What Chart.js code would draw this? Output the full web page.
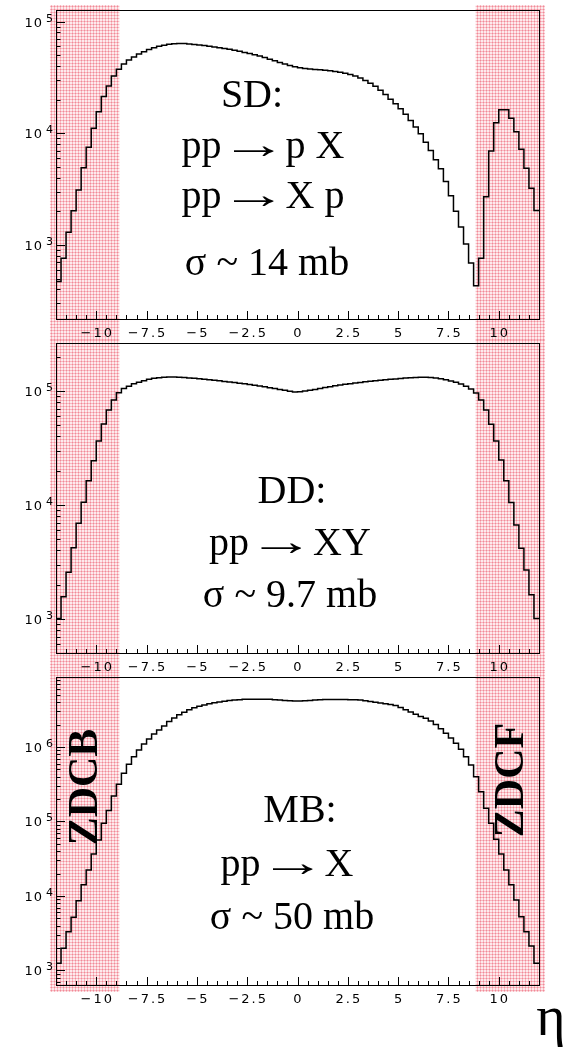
<!DOCTYPE html>
<html>
<head>
<meta charset="utf-8">
<script src="https://cdn.jsdelivr.net/npm/chart.js@4.4.0/dist/chart.umd.min.js"></script>
<style>
  html, body { margin: 0; padding: 0; background: #fff; }
  #page { position: relative; width: 566px; height: 1050px; overflow: hidden; }
  canvas { position: absolute; left: 0; }
</style>
</head>
<body>
<div id="page">
  <canvas id="sdChart" width="566" height="340" style="top:0;width:566px;height:340px"></canvas>
  <canvas id="ddChart" width="566" height="332" style="top:340px;width:566px;height:332px"></canvas>
  <canvas id="mbChart" width="566" height="378" style="top:672px;width:566px;height:378px"></canvas>
</div>
<script>
// histogram binning in eta (96 bins of 0.25)
const etaMin = -12;
const binWidth = 0.25;

// single diffractive pp -> pX / pp -> Xp
const sdCounts = [
  470, 760, 1300, 2020, 3100, 4900, 7500, 11100, 15600, 21300, 26500, 32600,
  37500, 41800, 45200, 48300, 51200, 53800, 56100, 58200, 60000, 61500, 62600, 63300,
  63600, 63500, 63100, 62500, 61800, 61000, 60200, 59300, 58400, 57500, 56500, 55400,
  54300, 53000, 51800, 50500, 49100, 47600, 46100, 44500, 43000, 41600, 40400, 39400,
  38600, 38000, 37600, 37300, 37000, 36700, 36300, 35800, 35200, 34500, 33600, 32500,
  31200, 29700, 28100, 26300, 24300, 22200, 20200, 18400, 16600, 14800, 13000, 11400,
  9900, 8300, 7000, 5800, 4800, 3700, 2750, 2000, 1450, 1020, 690, 430,
  760, 2700, 6950, 12400, 16200, 16200, 13600, 10300, 7200, 4870, 3220, 2030
];

// double diffractive pp -> XY
const ddCounts = [
  1010, 1570, 2570, 4230, 6910, 10600, 16300, 24500, 36400, 51400, 68100, 83400,
  96600, 105000, 110000, 115500, 119500, 123000, 126500, 129000, 130800, 131800, 132500, 132500,
  132000, 131000, 130000, 129000, 127800, 126500, 125200, 124000, 122700, 121400, 120000, 118600,
  117200, 115700, 114000, 112300, 110500, 108700, 106800, 105000, 103200, 101400, 99700, 98200,
  98300, 99800, 101500, 103300, 105200, 107100, 109000, 110900, 112700, 114400, 116000, 117500,
  118900, 120300, 121600, 122900, 124100, 125300, 126500, 127700, 128900, 130000, 130900, 131500,
  132000, 132000, 131300, 130000, 128000, 125500, 122500, 119000, 115000, 110000, 104000, 96000,
  83400, 68100, 51000, 36400, 24800, 16300, 10500, 6680, 4170, 2690, 1630, 1010
];

// minimum bias pp -> X
const mbCounts = [
  1250, 1990, 3320, 5180, 8650, 14100, 22400, 36600, 56500, 94600, 140000, 220000,
  316000, 443000, 586000, 741000, 912000, 1100000, 1280000, 1490000, 1690000, 1910000, 2200000, 2450000,
  2700000, 2930000, 3150000, 3350000, 3520000, 3670000, 3800000, 3920000, 4030000, 4120000, 4200000, 4270000,
  4320000, 4360000, 4380000, 4390000, 4390000, 4380000, 4360000, 4320000, 4270000, 4210000, 4160000, 4130000,
  4130000, 4160000, 4220000, 4270000, 4310000, 4340000, 4350000, 4350000, 4340000, 4330000, 4310000, 4290000,
  4270000, 4190000, 4090000, 3980000, 3890000, 3800000, 3720000, 3600000, 3390000, 3160000, 2950000, 2750000,
  2570000, 2430000, 2240000, 2000000, 1760000, 1530000, 1320000, 1120000, 933000, 741000, 575000, 400000,
  250000, 150000, 94600, 57700, 36600, 22300, 14100, 8830, 5270, 3320, 2130, 1250
];

const xTickValues = [-10, -7.5, -5, -2.5, 0, 2.5, 5, 7.5, 10];
const zdcBands = [[-12.3, -8.85], [8.85, 12.3]];

function histPoints(counts) {
  const pts = counts.map((v, i) => ({ x: etaMin + i * binWidth, y: v }));
  // close the last bin
  pts.push({ x: etaMin + counts.length * binWidth, y: counts[counts.length - 1] });
  return pts;
}

function makeHatch(ctx) {
  const c = document.createElement('canvas');
  c.width = 3; c.height = 3;
  const g = c.getContext('2d');
  g.fillStyle = '#fdeaec'; g.fillRect(0, 0, 3, 3);
  g.fillStyle = '#f8b8c0'; g.fillRect(0, 0, 3, 1); g.fillRect(0, 0, 1, 3);
  g.fillStyle = '#f08a97'; g.fillRect(0, 0, 1, 1);
  return ctx.createPattern(c, 'repeat');
}

function fmtTick(v) {
  return (v < 0 ? '\u2212' : '') + Math.abs(v);
}

// text with a long, thin arrow (the serif arrow glyph stretched sideways)
function drawNote(ctx, n) {
  ctx.font = n.font || '40px "Liberation Serif"';
  ctx.textAlign = 'left';
  const arrowLen = 40, gap = 12;
  const parts = n.text.split('\u2192').map(p => p.trim());
  const am = ctx.measureText('\u2192');
  const inkL = am.actualBoundingBoxLeft, inkW = am.actualBoundingBoxLeft + am.actualBoundingBoxRight;
  const s = arrowLen / inkW;
  let total = 0;
  parts.forEach((p, i) => { total += ctx.measureText(p).width + (i ? arrowLen + 2 * gap : 0); });
  let cx = -total / 2;
  parts.forEach((p, i) => {
    if (i) {
      ctx.save();
      ctx.translate(cx + gap, 0);
      ctx.scale(s, 1);
      ctx.fillText('\u2192', inkL, 0);
      ctx.restore();
      cx += arrowLen + 2 * gap;
    }
    ctx.fillText(p, cx, 0);
    cx += ctx.measureText(p).width;
  });
}

// ROOT-like frame: hatched ZDC bands, inward ticks, labels, annotations
const rootAxes = {
  id: 'rootAxes',
  beforeDraw(chart, args, opts) {
    const { ctx, scales: { x } } = chart;
    ctx.save();
    ctx.fillStyle = makeHatch(ctx);
    opts.bands.forEach(([a, b]) => {
      const x0 = x.getPixelForValue(a), x1 = x.getPixelForValue(b);
      ctx.fillRect(x0, opts.bandTop, x1 - x0, opts.bandBottom - opts.bandTop);
    });
    ctx.restore();
  },
  afterDraw(chart, args, opts) {
    const { ctx, chartArea: a, scales: { x, y } } = chart;
    ctx.save();
    ctx.strokeStyle = '#000';
    ctx.lineWidth = 1;
    ctx.strokeRect(Math.round(a.left) + 0.5, Math.round(a.top) + 0.5,
      Math.round(a.right - a.left), Math.round(a.bottom - a.top));

    // x ticks, pointing up from the bottom axis
    ctx.beginPath();
    for (let v = -11.5; v <= 11.5; v += 0.5) {
      const px = Math.round(x.getPixelForValue(v)) + 0.5;
      const len = xTickValues.includes(v) ? 8 : 4;
      ctx.moveTo(px, a.bottom);
      ctx.lineTo(px, a.bottom - len);
    }
    // y ticks, pointing right from the left axis
    const d0 = Math.floor(Math.log10(y.min)), d1 = Math.ceil(Math.log10(y.max));
    for (let d = d0; d <= d1; d++) {
      for (let k = 1; k <= 9; k++) {
        const v = k * Math.pow(10, d);
        if (v < y.min || v > y.max) continue;
        const py = Math.round(y.getPixelForValue(v)) + 0.5;
        ctx.moveTo(a.left, py);
        ctx.lineTo(a.left + (k === 1 ? 9 : 4.5), py);
      }
    }
    ctx.stroke();

    // tick labels
    ctx.fillStyle = '#000';
    ctx.font = '13px "DejaVu Sans"';
    ctx.letterSpacing = '2px';
    ctx.textAlign = 'center';
    ctx.textBaseline = 'alphabetic';
    xTickValues.forEach(v => {
      ctx.fillText(fmtTick(v), x.getPixelForValue(v) + 1, a.bottom + 18);
    });
    ctx.letterSpacing = '1px';
    for (let d = d0; d <= d1; d++) {
      const v = Math.pow(10, d);
      if (v < y.min || v > y.max) continue;
      const py = y.getPixelForValue(v);
      ctx.font = '13px "DejaVu Sans"';
      ctx.textAlign = 'right';
      ctx.fillText('10', a.left - 13, py + 5);
      ctx.font = '11px "DejaVu Sans"';
      ctx.textAlign = 'left';
      ctx.fillText(String(d), a.left - 10, py);
    }
    ctx.letterSpacing = '0px';

    // annotations
    ctx.fillStyle = '#000';
    ctx.textBaseline = 'alphabetic';
    (opts.notes || []).forEach(n => {
      ctx.save();
      ctx.translate(n.x, n.y - opts.top);
      if (n.rotate) {
        ctx.rotate(-Math.PI / 2);
        ctx.textBaseline = 'middle';
      }
      drawNote(ctx, n);
      ctx.restore();
    });
    ctx.restore();
  }
};

function makePanel(id, counts, yMin, yMax, cfg) {
  return new Chart(document.getElementById(id), {
    type: 'line',
    data: {
      datasets: [{
        data: histPoints(counts),
        stepped: 'before',
        borderColor: '#000',
        borderWidth: 1.5,
        pointRadius: 0,
        fill: false
      }]
    },
    options: {
      responsive: false,
      animation: false,
      events: [],
      layout: { padding: { left: 56, right: 27, top: cfg.padTop, bottom: cfg.padBottom } },
      plugins: {
        legend: { display: false },
        tooltip: { enabled: false },
        rootAxes: {
          top: cfg.top,
          bands: zdcBands,
          bandTop: cfg.bandTop,
          bandBottom: cfg.bandBottom,
          notes: cfg.notes
        }
      },
      scales: {
        x: { type: 'linear', min: -12, max: 12, display: false },
        y: { type: 'logarithmic', min: yMin, max: yMax, display: false }
      }
    },
    plugins: [rootAxes]
  });
}

makePanel('sdChart', sdCounts, 217, 127000, {
  top: 0, padTop: 10, padBottom: 21, bandTop: 5, bandBottom: 340,
  notes: [
    { text: 'SD:', x: 252, y: 107 },
    { text: 'pp \u2192 p X', x: 263, y: 158 },
    { text: 'pp \u2192 X p', x: 263, y: 208 },
    { text: '\u03c3 ~ 14 mb', x: 267, y: 275 }
  ]
});

makePanel('ddChart', ddCounts, 504, 263500, {
  top: 340, padTop: 3, padBottom: 19, bandTop: 0, bandBottom: 332,
  notes: [
    { text: 'DD:', x: 292, y: 503 },
    { text: 'pp \u2192 XY', x: 290, y: 555 },
    { text: '\u03c3 ~ 9.7 mb', x: 290, y: 607 }
  ]
});

makePanel('mbChart', mbCounts, 638, 8.7e6, {
  top: 672, padTop: 5, padBottom: 65, bandTop: 0, bandBottom: 320,
  notes: [
    { text: 'MB:', x: 300, y: 822 },
    { text: 'pp \u2192 X', x: 287, y: 876 },
    { text: '\u03c3 ~ 50 mb', x: 292, y: 929 },
    { text: 'ZDCB', x: 86, y: 787, rotate: true, font: 'bold 42px "Liberation Serif"' },
    { text: 'ZDCF', x: 512, y: 780, rotate: true, font: 'bold 42px "Liberation Serif"' },
    { text: '\u03b7', x: 551, y: 1035, font: '56px "Liberation Serif"' }
  ]
});
</script>
</body>
</html>
